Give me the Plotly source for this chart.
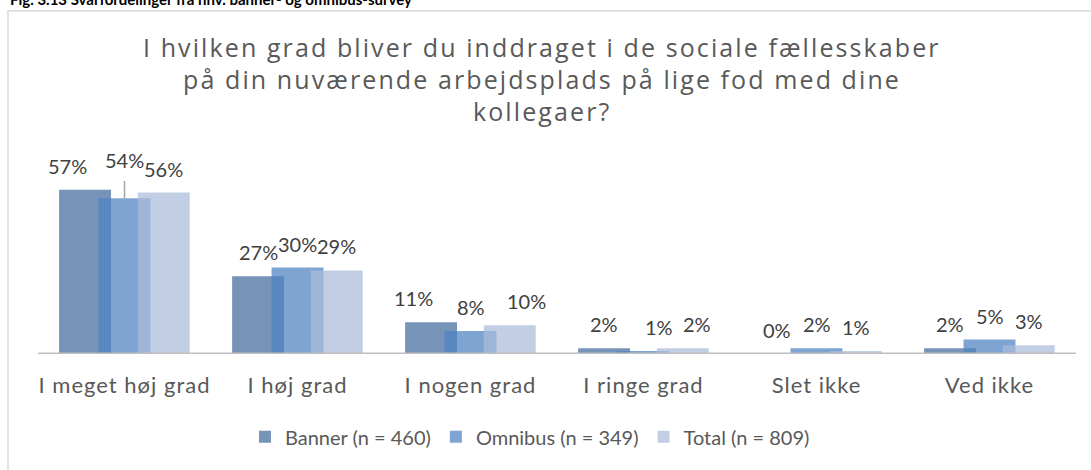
import plotly.graph_objects as go

# Survey answer distribution (percent) per category and sample
categories = ["I meget høj grad", "I høj grad", "I nogen grad", "I ringe grad", "Slet ikke", "Ved ikke"]
banner = [57, 27, 11, 2, 0, 2]
omnibus = [54, 30, 8, 1, 2, 5]
total = [56, 29, 10, 2, 1, 3]
series_names = ["Banner (n = 460)", "Omnibus (n = 349)", "Total (n = 809)"]

title_lines = [
    "I hvilken grad bliver du inddraget i de sociale fællesskaber",
    "på din nuværende arbejdsplads på lige fod med dine",
    "kollegaer?",
]
header_text = "Fig. 3.13 Svarfordelinger fra hhv. banner- og omnibus-survey"

# Layout geometry (pixels)
W, H = 1091, 470
ML, MR, MT, MB = 38, 15, 180.6, 116
plot_w = W - ML - MR
plot_h = H - MT - MB


def px_x(p):
    return (p - ML) / plot_w


def px_y(p):
    return (H - MB - p) / plot_h


def spaced(text, px):
    return f'<span style="letter-spacing:{px}px">{text}</span>'


colors = ["rgba(69,107,158,0.73)", "rgba(78,130,193,0.73)", "rgba(171,188,217,0.73)"]
bar_width = 0.30
centers = [-0.228, 0.0, 0.227]
xs = list(range(len(categories)))

fig = go.Figure()
for vals, name, col, c in zip([banner, omnibus, total], series_names, colors, centers):
    fig.add_trace(go.Bar(
        x=xs, y=vals, name=name,
        marker=dict(color=col, line=dict(width=0)),
        width=bar_width, offset=c - bar_width / 2,
    ))

# Data labels: horizontal nudges (px) to keep neighbouring labels apart
nudges = [
    [-18, 0, -18, 0, 0, 0],
    [0, 0, 0, 15, 0, 0],
    [0, 0, 17, 14, 0, 0],
]
lift = [[24] * 6 for _ in range(3)]
lift[1][0] = 38  # raised label with a leader line

annotations = []
for si, (vals, c) in enumerate(zip([banner, omnibus, total], centers)):
    for ci, v in enumerate(vals):
        annotations.append(dict(
            x=ci + c, y=v, xref="x", yref="y",
            text=f"{v}%", showarrow=False,
            xshift=nudges[si][ci], yshift=lift[si][ci],
            xanchor="center", yanchor="middle",
            font=dict(family="Lato", size=20, color="#404040"),
        ))

# Chart title, one annotation per line with spaced lettering
for i, line in enumerate(title_lines):
    annotations.append(dict(
        x=px_x(542), y=px_y(46 + 32 * i), xref="paper", yref="paper",
        text=spaced(line, 2.1), showarrow=False,
        xanchor="center", yanchor="middle",
        font=dict(family="Open Sans", size=25, color="#595959"),
    ))

annotations.append(dict(
    x=px_x(8), y=px_y(-2), xref="paper", yref="paper",
    text=f"<b>{header_text}</b>", showarrow=False, xanchor="left", yanchor="middle",
    font=dict(family="Lato", size=15, color="#000000"),
))

shapes = [
    # chart frame
    dict(type="rect", xref="paper", yref="paper",
         x0=px_x(8), x1=px_x(1100), y0=px_y(10), y1=px_y(480),
         line=dict(color="#d9d9d9", width=1.5), fillcolor="rgba(0,0,0,0)", layer="below"),
    # leader line for the raised label
    dict(type="line", xref="x", yref="y",
         x0=centers[1], x1=centers[1], y0=omnibus[0], y1=omnibus[0] + 7,
         line=dict(color="#a6a6a6", width=1.5)),
    # category axis line
    dict(type="line", xref="paper", yref="y", x0=0, x1=1, y0=0, y1=0,
         line=dict(color="#bfbfbf", width=3), layer="above"),
]

fig.update_layout(
    width=W, height=H,
    margin=dict(l=ML, r=MR, t=MT, b=MB, pad=0),
    paper_bgcolor="white", plot_bgcolor="white",
    barmode="overlay",
    showlegend=True,
    legend=dict(orientation="h", x=px_x(530), y=px_y(437), xanchor="center", yanchor="middle",
                font=dict(family="Lato", size=20, color="#595959"),
                itemclick=False, traceorder="normal"),
    xaxis=dict(range=[-0.5, 5.5], tickmode="array", tickvals=xs,
               ticktext=[spaced(c, 1) for c in categories],
               showgrid=False, zeroline=False, showline=False, ticks="",
               ticklabelstandoff=16,
               tickfont=dict(family="Lato", size=22, color="#595959")),
    yaxis=dict(range=[0, 60], visible=False, showgrid=False, zeroline=False),
    annotations=annotations,
    shapes=shapes,
)

fig.write_html("out.html")
